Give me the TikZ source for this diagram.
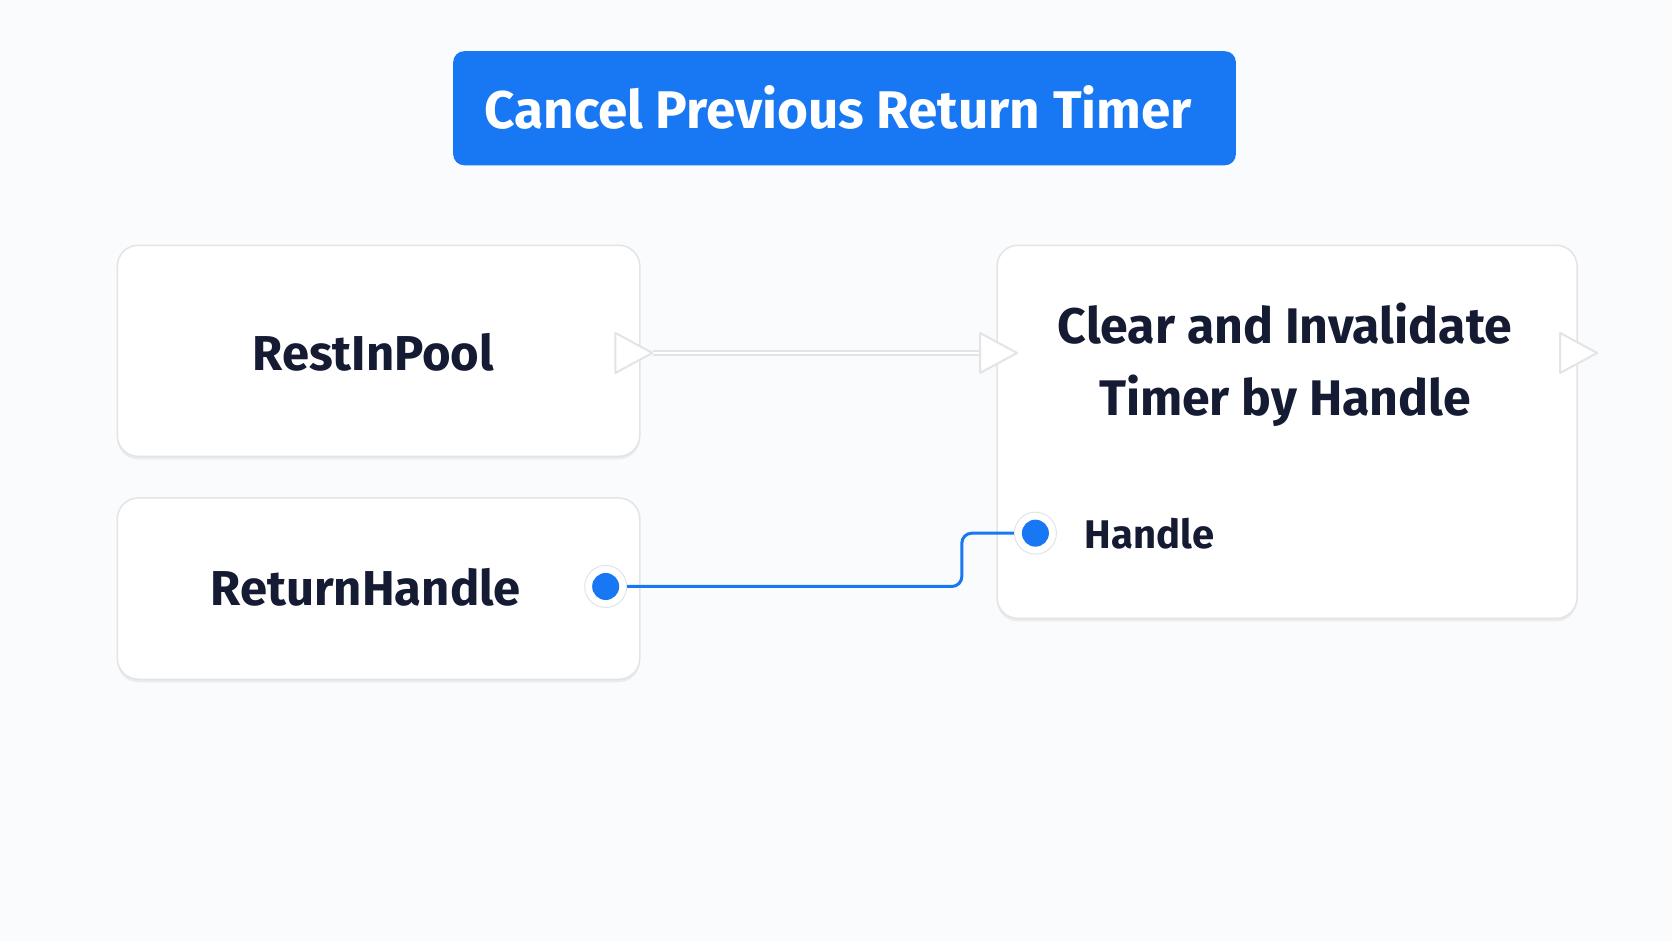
\documentclass[tikz,border=0pt]{standalone}
\usepackage{fontspec}
\setmainfont{Fira Sans}
\usetikzlibrary{shadows}
\definecolor{bg}{HTML}{FAFBFC}
\definecolor{ue}{HTML}{1877F2}
\definecolor{ink}{HTML}{141B33}
\definecolor{edge}{HTML}{E2E4E8}
\begin{document}
\begin{tikzpicture}[x=1.0663pt,y=-1.0663pt,
  card/.style={draw=edge,line width=1.5pt,fill=white,rounded corners=21pt,drop shadow={shadow xshift=0pt,shadow yshift=-3pt,opacity=0.12}},
  lbl/.style={font=\bfseries\fontsize{49}{56}\selectfont,text=ink,align=center},
  exec/.style={draw=edge,line width=2pt,fill=white,line join=round},
  pinring/.style={circle,fill=white,draw=edge,line width=1pt,minimum size=42pt,inner sep=0},
  pin/.style={circle,fill=ue,minimum size=27pt,inner sep=0}]
\fill[bg] (0,0) rectangle (1568,882);
\useasboundingbox (0,0) rectangle (1568,882);
% title
\fill[ue,rounded corners=11pt] (425,48) rectangle (1159,155);
\node[font=\bfseries\fontsize{53}{60}\selectfont,text=white] (title) at (786,101) {Cancel Previous Return Timer};
% cards
\path[card] (110,230) rectangle (600,428);
\path[card] (110,467) rectangle (600,637);
\path[card] (935,230) rectangle (1479,580);
\node[lbl] (rip) at (350,330) {RestInPool};
\node[lbl] (rh) at (343,551) {ReturnHandle};
\node[lbl,font=\bfseries\fontsize{50}{72}\selectfont] (clr) at (1205,342) {Clear and Invalidate\\Timer by Handle};
\node[font=\bfseries\fontsize{40}{46}\selectfont,text=ink,anchor=west] (hl) at (1014,500) {Handle};
% exec pins
\coordinate (eo) at (594,331);
\coordinate (ei) at (936,331);
\coordinate (eo2) at (1480,331);
\foreach \c in {eo,ei,eo2}{
  \draw[exec] ([xshift=-18pt,yshift=-20pt]\c) -- ([xshift=19pt]\c) -- ([xshift=-18pt,yshift=20pt]\c) -- cycle;}
\draw[edge,line width=6pt] ([xshift=20pt]eo) -- ([xshift=-19pt]ei);
\draw[white,line width=2.5pt] ([xshift=20pt]eo) -- ([xshift=-19pt]ei);
% data wire
\node[pinring] (po) at (568,550) {};
\node[pinring] (pi) at (971,500) {};
\draw[ue,line width=3pt,rounded corners=10pt] (po.east) -- (902,550) -- (902,500) -- (pi.west);
\node[pin] at (po) {};
\node[pin] at (pi) {};
\end{tikzpicture}
\end{document}
